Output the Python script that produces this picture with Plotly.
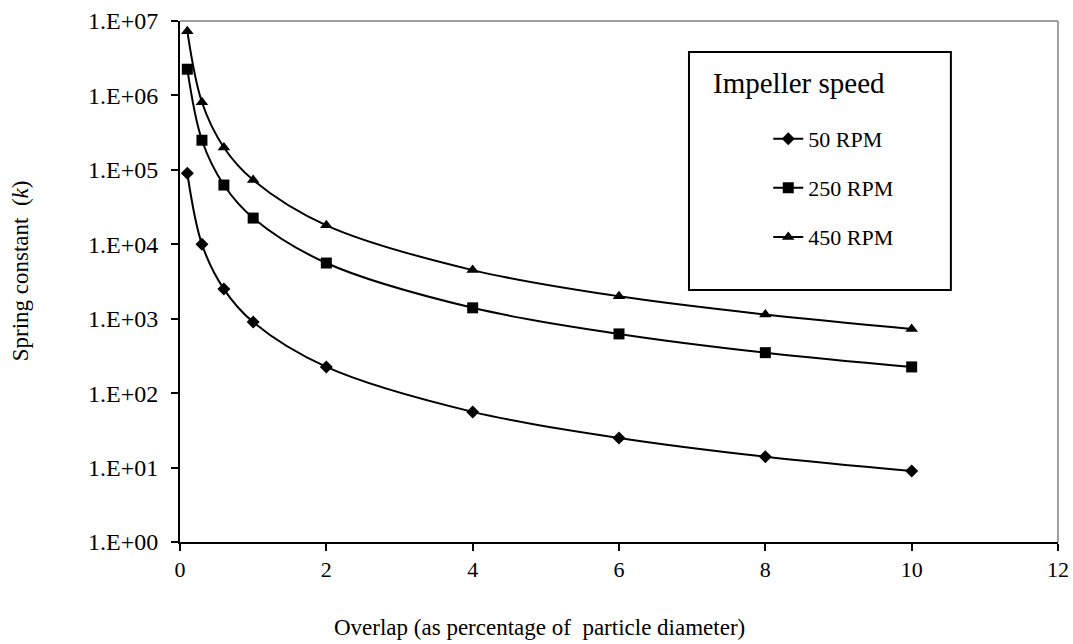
import plotly.graph_objects as go

# Overlap as percentage of particle diameter
overlap = [0.1, 0.3, 0.6, 1, 2, 4, 6, 8, 10]

# Spring constant k for each impeller speed
k_50 = [90000, 10000, 2500, 900, 225, 56, 25, 14, 9]
k_250 = [2250000, 250000, 62500, 22500, 5600, 1400, 625, 350, 225]
k_450 = [7300000, 810000, 200000, 73000, 18000, 4500, 2000, 1140, 730]

series_names = ["50 RPM", "250 RPM", "450 RPM"]
series_symbols = ["diamond", "square", "triangle-up"]
series_sizes = [10, 11, 11]

y_tickvals = [1, 10, 100, 1e3, 1e4, 1e5, 1e6, 1e7]
y_ticktext = ["1.E+00", "1.E+01", "1.E+02", "1.E+03", "1.E+04", "1.E+05", "1.E+06", "1.E+07"]
x_tickvals = [0, 2, 4, 6, 8, 10, 12]

FONT = "Liberation Serif, Times New Roman, serif"

fig = go.Figure()
for i, (name, ys) in enumerate(zip(series_names, [k_50, k_250, k_450])):
    fig.add_trace(go.Scatter(
        x=overlap, y=ys, name=name, mode="lines+markers",
        line=dict(color="black", width=2, shape="spline", smoothing=1.0),
        marker=dict(symbol=series_symbols[i], size=series_sizes[i], color="black"),
        legendgroup=f"g{i}",
    ))

fig.update_layout(
    width=1073, height=644,
    margin=dict(l=180, r=15, t=21, b=102, autoexpand=False),
    paper_bgcolor="white", plot_bgcolor="white",
    font=dict(family=FONT, size=22, color="black"),
    showlegend=True,
    legend=dict(
        x=0.670, y=0.814, xanchor="left", yanchor="top",
        bgcolor="rgba(0,0,0,0)", borderwidth=0,
        font=dict(family=FONT, size=22, color="black"),
        tracegroupgap=17.5, itemwidth=30,
    ),
    xaxis=dict(
        range=[0, 12], tickvals=x_tickvals, ticks="outside", ticklen=7,
        tickwidth=1.5, tickcolor="black", showline=True, linecolor="black",
        linewidth=2, showgrid=False, zeroline=False, automargin=False,
        tickfont=dict(family=FONT, size=22),
    ),
    yaxis=dict(
        type="log", range=[0, 7], tickvals=y_tickvals, ticktext=y_ticktext,
        ticks="outside", ticklen=7, tickwidth=1.5, tickcolor="black",
        showline=True, linecolor="black", linewidth=2, showgrid=False,
        zeroline=False, automargin=False, tickfont=dict(family=FONT, size=24),
        ticklabelstandoff=8,
    ),
    shapes=[
        # plot-area border (top and right)
        dict(type="line", xref="paper", yref="paper", x0=0, y0=1, x1=1, y1=1,
             line=dict(color="#808080", width=1.5)),
        dict(type="line", xref="paper", yref="paper", x0=1, y0=0, x1=1, y1=1,
             line=dict(color="#808080", width=1.5)),
        # legend frame
        dict(type="rect", xref="paper", yref="paper", x0=0.5797, x1=0.878,
             y0=0.4837, y1=0.9405, line=dict(color="black", width=2),
             fillcolor="rgba(0,0,0,0)"),
    ],
    annotations=[
        dict(text="Impeller speed", xref="paper", yref="paper", x=0.6048, y=0.881,
             xanchor="left", yanchor="middle", showarrow=False,
             font=dict(family=FONT, size=29)),
        dict(text="Overlap (as percentage of\u00a0 particle diameter)", xref="paper",
             yref="paper", x=0.409, y=-0.165, xanchor="center", yanchor="middle",
             showarrow=False, font=dict(family=FONT, size=23)),
        dict(text="Spring constant\u00a0 (<i>k</i>)", xref="paper", yref="paper",
             x=-0.182, y=0.52, xanchor="center", yanchor="middle", textangle=-90,
             showarrow=False, font=dict(family=FONT, size=23)),
    ],
)

fig.write_html("out.html")
